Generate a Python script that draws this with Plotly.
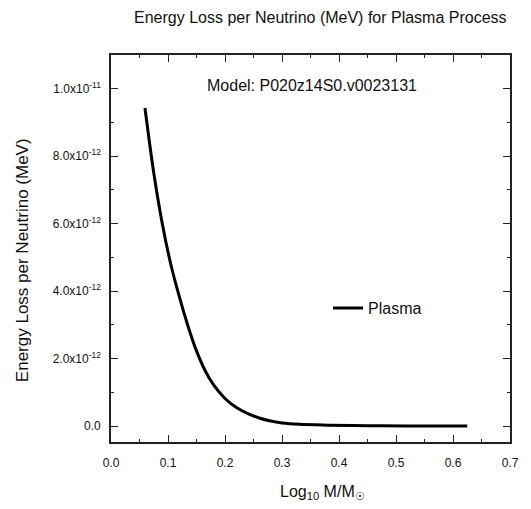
import plotly.graph_objects as go

log_mass = [0.0596, 0.075, 0.09, 0.105, 0.12, 0.135, 0.15, 0.165, 0.18, 0.20,
            0.22, 0.24, 0.26, 0.28, 0.30, 0.33, 0.38, 0.45, 0.52, 0.625]
energy_loss = [9.43e-12, 7.51e-12, 6.00e-12, 4.79e-12, 3.83e-12, 2.97e-12, 2.23e-12,
               1.65e-12, 1.22e-12, 0.82e-12, 0.55e-12, 0.37e-12, 0.24e-12, 0.15e-12,
               0.095e-12, 0.055e-12, 0.03e-12, 0.012e-12, 0.005e-12, 0.001e-12]

y_tickvals = [0, 2e-12, 4e-12, 6e-12, 8e-12, 1e-11]
y_ticktext = ["0.0", "2.0x10<sup>-12</sup>", "4.0x10<sup>-12</sup>", "6.0x10<sup>-12</sup>",
              "8.0x10<sup>-12</sup>", "1.0x10<sup>-11</sup>"]
x_tickvals = [0.0, 0.1, 0.2, 0.3, 0.4, 0.5, 0.6, 0.7]
x_ticktext = ["0.0", "0.1", "0.2", "0.3", "0.4", "0.5", "0.6", "0.7"]

FONT = "Liberation Sans, Arial, sans-serif"
INK = "#111"

fig = go.Figure()
fig.add_trace(go.Scatter(x=log_mass, y=energy_loss, mode="lines", name="Plasma",
                         line=dict(color="black", width=3, shape="spline", smoothing=1.0)))

axis_common = dict(showgrid=False, zeroline=False, showline=True, linecolor="#222",
                   linewidth=1.6, mirror="ticks", ticks="inside", ticklen=7,
                   tickwidth=1.3, tickcolor="#222",
                   tickfont=dict(family=FONT, size=12, color=INK))

fig.update_xaxes(range=[0, 0.7], tickvals=x_tickvals, ticktext=x_ticktext,
                 ticklabelstandoff=9,
                 minor=dict(ticks="inside", ticklen=3.5, tickwidth=1.3, tickcolor="#222", dtick=0.05, tick0=0),
                 **axis_common)
fig.update_yaxes(range=[-4.7e-13, 1.1e-11], tickvals=y_tickvals, ticktext=y_ticktext,
                 ticklabelstandoff=6,
                 minor=dict(ticks="inside", ticklen=3.5, tickwidth=1.3, tickcolor="#222", dtick=1e-12, tick0=0),
                 **axis_common)

fig.update_layout(
    width=531, height=509,
    margin=dict(l=111, r=21, t=55, b=67),
    paper_bgcolor="white", plot_bgcolor="white",
    showlegend=True,
    legend=dict(x=0.544, y=0.346, xanchor="left", yanchor="middle",
                bgcolor="rgba(0,0,0,0)", font=dict(family=FONT, size=16, color=INK)),
    annotations=[
        dict(text="Energy Loss per Neutrino (MeV) for Plasma Process", xref="paper", yref="paper",
             x=0.524, y=1.098, xanchor="center", yanchor="middle", showarrow=False,
             font=dict(family=FONT, size=16, color=INK)),
        dict(text="Model: P020z14S0.v0023131", xref="paper", yref="paper",
             x=0.504, y=0.92, xanchor="center", yanchor="middle", showarrow=False,
             font=dict(family=FONT, size=16, color=INK)),
        dict(text="Energy Loss per Neutrino (MeV)", xref="paper", yref="paper",
             x=-0.222, y=0.471, xanchor="center", yanchor="middle", showarrow=False,
             textangle=-90, font=dict(family=FONT, size=17, color=INK)),
        dict(text="Log<sub>10</sub> M/M<sub>☉</sub>", xref="paper", yref="paper",
             x=0.529, y=-0.13, xanchor="center", yanchor="middle", showarrow=False,
             font=dict(family=FONT, size=16, color=INK)),
    ],
)

fig.write_html("out.html")
